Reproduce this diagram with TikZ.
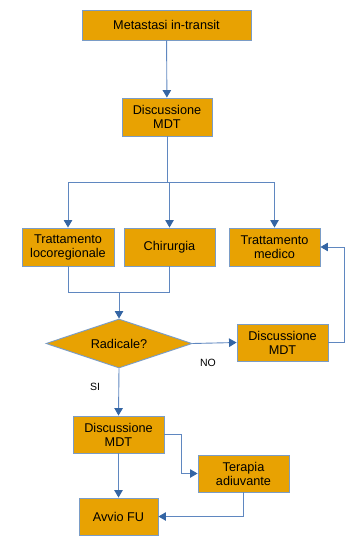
\documentclass[tikz,border=0pt]{standalone}
\usepackage{fontspec}
\setmainfont{Liberation Sans}
\usepackage{xcolor}
\usetikzlibrary{arrows.meta,shapes.geometric}
\definecolor{boxfill}{HTML}{E8A202}
\definecolor{boxline}{HTML}{7A9CC6}
\definecolor{linkblue}{HTML}{5F87C0}
\definecolor{tipblue}{HTML}{3465A4}
\tikzset{%
  tipA/.tip={Triangle[length=7.5pt,width=8.5pt,color=tipblue]},
  flowbox/.style={draw=boxline, fill=boxfill, line width=0.9pt, align=center,
    inner sep=0pt, font=\fontsize{12.7}{14}\selectfont},
  link/.style={draw=linkblue, line width=0.9pt},
  arrowlink/.style={link, -tipA}
}

\begin{document}
\begin{tikzpicture}[x=1pt,y=-1pt]
\useasboundingbox (0,0) rectangle (358,548);
\node[flowbox, minimum width=169pt, minimum height=30pt] (meta) at (166.5,25) {Metastasi in-transit};
\node[flowbox, minimum width=90pt, minimum height=38pt] (mdtA) at (167,117) {Discussione\\MDT};
\node[flowbox, minimum width=92pt, minimum height=38pt] (loco) at (68,247) {Trattamento\\locoregionale};
\node[flowbox, minimum width=91pt, minimum height=38pt] (chir) at (169.5,247) {Chirurgia};
\node[flowbox, minimum width=91pt, minimum height=38pt] (med) at (274.5,247) {Trattamento\\medico};
\node[flowbox, shape=diamond, shape aspect=3, minimum width=146pt, minimum height=49pt] (rad) at (119,343.5) {Radicale?};
\node[flowbox, minimum width=91pt, minimum height=37pt] (mdtB) at (282.5,342.5) {Discussione\\MDT};
\node[flowbox, minimum width=91pt, minimum height=37pt] (mdtC) at (118.5,434.5) {Discussione\\MDT};
\node[flowbox, minimum width=91pt, minimum height=37pt] (adiuv) at (243.5,473.5) {Terapia\\adiuvante};
\node[flowbox, minimum width=79pt, minimum height=37pt] (fu) at (118.5,516.5) {Avvio FU};
\node[font=\fontsize{10.5}{12}\selectfont] (no) at (208,363) {NO};
\node[font=\fontsize{10.5}{12}\selectfont] (si) at (95,387) {SI};
\coordinate (fork) at (167,182);
\coordinate (join) at (119,292);
% connectors
\draw[arrowlink] (meta) -- (mdtA);
\draw[link] (mdtA) -- (fork);
\draw[arrowlink] (fork) -| (loco);
\draw[arrowlink] (fork) -| (chir);
\draw[arrowlink] (fork) -| (med);
\draw[link] (loco.south) |- (join);
\draw[link] (chir.south) |- (join);
\draw[arrowlink] (join) -- (rad.north);
\draw[arrowlink] (rad.east) -- (mdtB.west);
\draw[arrowlink] (mdtB.east) -- ++(16,0) |- (med.east);
\draw[arrowlink] (rad.south) -- (mdtC.north);
\draw[arrowlink] (mdtC.east) -- ++(17,0) |- (adiuv.west);
\draw[arrowlink] (mdtC) -- (fu);
\draw[arrowlink] (adiuv.south) |- (fu.east);
\end{tikzpicture}
\end{document}
